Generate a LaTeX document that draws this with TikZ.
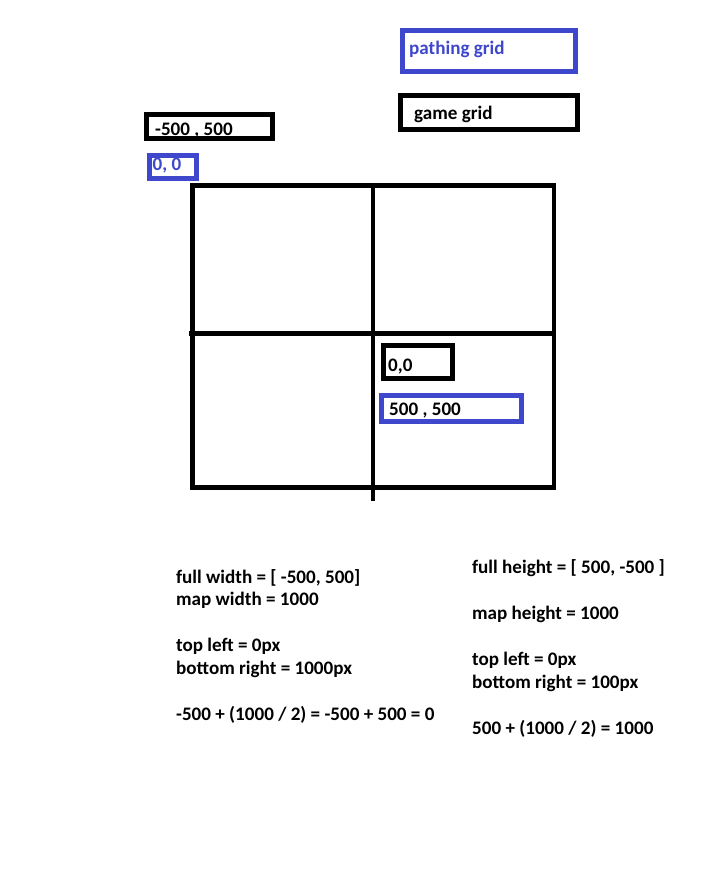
\documentclass[tikz,border=0pt]{standalone}
\usepackage{fontspec}
\setmainfont{Carlito}
\definecolor{paintblue}{RGB}{63,72,204}
\begin{document}
\begin{tikzpicture}[x=1pt,y=-1pt,
  lbl/.style={anchor=base west, inner sep=0pt, font=\bfseries\fontsize{19.1}{23}\selectfont},
  blkbox/.style={draw=black, line width=5pt, line join=miter},
  blubox/.style={draw=paintblue, line width=5pt, line join=miter},
  gridline/.style={draw=black, line width=4.7pt, line join=miter, line cap=butt}]
\useasboundingbox[fill=white] (0,0) rectangle (717,894);
% legend boxes
\draw[blubox] (402,30) rectangle (575,71);
\node[lbl,text=paintblue] (pg) at (409,54) {pathing grid};
\draw[blkbox] (400,95.5) rectangle (577.5,129);
\node[lbl] (gg) at (414,119) {game grid};
% corner labels
\draw[blkbox] (146.5,114) rectangle (272,138.5);
\node[lbl] (tl) at (155,135) {-500 , 500};
\draw[blubox] (149,155) rectangle (196,178);
\node[lbl,text=paintblue] (tlp) at (152.5,170) {0, 0};
% grid
\coordinate (g1) at (192.5,185.5);
\coordinate (g2) at (554,487.5);
\coordinate (vt) at (373,185.5);
\coordinate (vb) at (373,501);
\coordinate (hl) at (189,333.5);
\coordinate (hr) at (554,333.5);
\draw[gridline] (g1) rectangle (g2);
\draw[gridline] (vt) -- (vb);
\draw[gridline] (hl) -- (hr);
% centre labels
\draw[blkbox] (383,345.5) rectangle (452.5,378);
\node[lbl] (c0) at (388,371) {0,0};
\draw[blubox] (381.5,395) rectangle (521,421);
\node[lbl] (c5) at (389,415) {500 , 500};
% left column text
\node[lbl] (a1) at (176,583) {full width = [ -500, 500]};
\node[lbl] (a2) at (176,605) {map width = 1000};
\node[lbl] (a3) at (176,651) {top left = 0px};
\node[lbl] (a4) at (176,674) {bottom right = 1000px};
\node[lbl] (a5) at (176,720) {-500 + (1000 / 2) = -500 + 500 = 0};
% right column text
\node[lbl] (b1) at (472,573) {full height = [ 500, -500 ]};
\node[lbl] (b2) at (472,619) {map height = 1000};
\node[lbl] (b3) at (472,665) {top left = 0px};
\node[lbl] (b4) at (472,688) {bottom right = 100px};
\node[lbl] (b5) at (472,734) {500 + (1000 / 2) = 1000};
\end{tikzpicture}
\end{document}
